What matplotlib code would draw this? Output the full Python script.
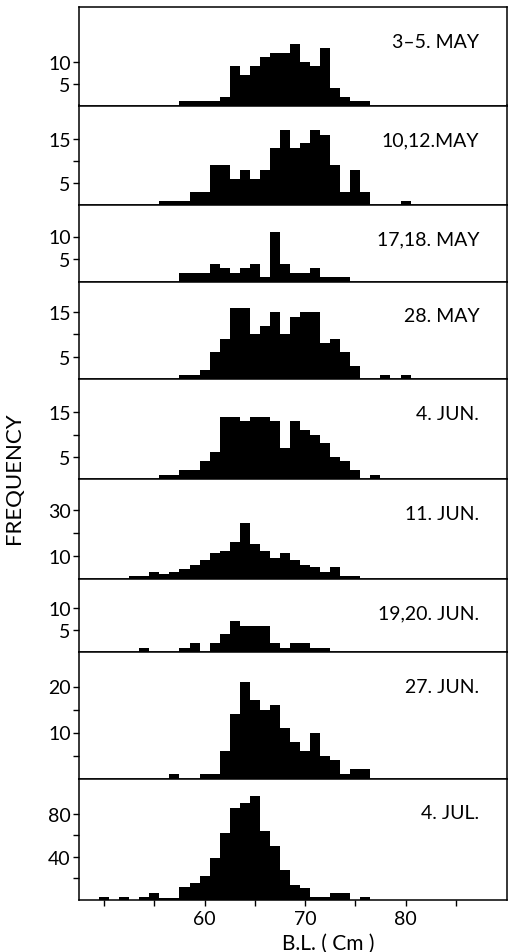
import numpy as np
import matplotlib.pyplot as plt

# body length classes (cm), 1 cm bins centred on the whole number
lengths = np.arange(50, 81)

#              50 .........................................................80
may_3_5    = [0, 0, 0, 0, 0, 0, 0, 0, 1, 1, 1, 1, 2, 9, 7, 9, 11, 12, 12, 14, 10, 9, 13, 4, 2, 1, 1, 0, 0, 0, 0]
may_10_12  = [0, 0, 0, 0, 0, 0, 1, 1, 1, 3, 3, 9, 9, 6, 8, 6, 8, 13, 17, 13, 14, 17, 16, 9, 3, 8, 3, 0, 0, 0, 1]
may_17_18  = [0, 0, 0, 0, 0, 0, 0, 0, 2, 2, 2, 4, 3, 2, 3, 4, 1, 11, 4, 2, 2, 3, 1, 1, 1, 0, 0, 0, 0, 0, 0]
may_28     = [0, 0, 0, 0, 0, 0, 0, 0, 1, 1, 2, 6, 9, 16, 16, 10, 12, 15, 10, 14, 15, 15, 8, 9, 6, 3, 0, 0, 1, 0, 1]
jun_4      = [0, 0, 0, 0, 0, 0, 1, 1, 2, 2, 4, 6, 14, 14, 13, 14, 14, 13, 7, 13, 11, 10, 8, 5, 4, 2, 0, 1, 0, 0, 0]
jun_11     = [0, 0, 0, 1, 1, 3, 2, 3, 4, 6, 8, 11, 12, 16, 24, 15, 12, 9, 11, 8, 6, 5, 3, 5, 1, 1, 0, 0, 0, 0, 0]
jun_19_20  = [0, 0, 0, 0, 1, 0, 0, 0, 1, 2, 0, 2, 4, 7, 6, 6, 6, 2, 1, 2, 2, 1, 1, 0, 0, 0, 0, 0, 0, 0, 0]
jun_27     = [0, 0, 0, 0, 0, 0, 0, 1, 0, 0, 1, 1, 6, 14, 21, 17, 15, 16, 11, 8, 6, 10, 5, 4, 1, 2, 2, 0, 0, 0, 0]
jul_4      = [2, 0, 2, 0, 2, 6, 1, 1, 12, 15, 22, 39, 62, 85, 90, 97, 64, 50, 28, 14, 11, 2, 2, 6, 6, 0, 2, 0, 0, 0, 0]

samples = [may_3_5, may_10_12, may_17_18, may_28, jun_4, jun_11, jun_19_20, jun_27, jul_4]
dates = ["3–5. MAY", "10,12.MAY", "17,18. MAY", "28. MAY", "4. JUN.",
         "11. JUN.", "19,20. JUN.", "27. JUN.", "4. JUL."]

yticks = [[5, 10], [5, 10, 15], [5, 10], [5, 10, 15], [5, 10, 15],
          [10, 20, 30], [5, 10], [5, 10, 15, 20], [20, 40, 60, 80]]
ytick_labels = [["5", "10"], ["5", "", "15"], ["5", "10"], ["5", "", "15"], ["5", "", "15"],
                ["10", "", "30"], ["5", "10"], ["", "10", "", "20"], ["", "40", "", "80"]]
ymax = [22.4, 22.6, 17, 21.9, 22.5, 43.3, 16.7, 27.5, 113]

xticks = [50, 55, 60, 65, 70, 75, 80, 85]
xtick_labels = ["", "", "60", "", "70", "", "80", ""]

plt.rcParams['font.family'] = ['Lato', 'DejaVu Sans']

W, H = 509, 953
fig = plt.figure(figsize=(W / 100, H / 100), dpi=100)

# panel frame edges in pixels, top to bottom
left, right = 79, 507
rows = [8, 106.5, 206, 282.5, 380, 480, 579.5, 653, 779.5, 900.5]

edges = np.append(lengths - 0.5, lengths[-1] + 0.5)

for i, (counts, label) in enumerate(zip(samples, dates)):
    top, bottom = rows[i], rows[i + 1]
    ax = fig.add_axes([left / W, 1 - bottom / H, (right - left) / W, (bottom - top) / H])
    ax.stairs(counts, edges, fill=True, color='black', linewidth=0)
    ax.set_xlim(47.5, 90.1)
    ax.set_ylim(0, ymax[i])
    ax.set_yticks(yticks[i])
    ax.set_yticklabels(ytick_labels[i])
    ax.tick_params(axis='y', direction='out', length=4.5, width=1.0, pad=1.5, labelsize=14)
    for s in ax.spines.values():
        s.set_linewidth(1.1)
    ax.annotate(label, xy=(0.935, 1), xycoords='axes fraction', xytext=(0, -24.5),
                textcoords='offset points', ha='right', va='center', fontsize=14)
    if i == len(samples) - 1:
        ax.set_xticks(xticks)
        ax.set_xticklabels(xtick_labels)
        ax.tick_params(axis='x', direction='out', length=4.5, width=1.0, pad=3, labelsize=14)
    else:
        ax.set_xticks([])

fig.text(328 / W, 1 - 944 / H, "B.L. ( Cm )", ha='center', va='center', fontsize=15)
fig.text(14 / W, 1 - 478 / H, "FREQUENCY", rotation=90, ha='center', va='center', fontsize=16)

fig.savefig("out.png", dpi=100)
